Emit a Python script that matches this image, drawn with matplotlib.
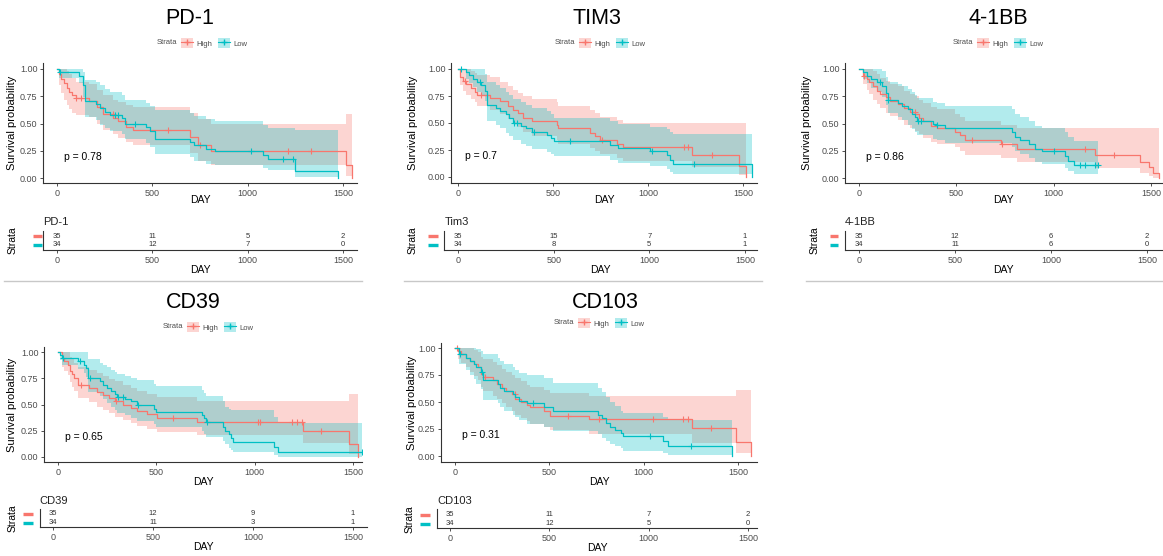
import numpy as np
import matplotlib
matplotlib.use("Agg")
import matplotlib.pyplot as plt
from matplotlib.lines import Line2D
from matplotlib.patches import Patch
from matplotlib.transforms import blended_transform_factory

plt.rcParams["font.family"] = ["Liberation Sans", "DejaVu Sans"]

RED = "#F8766D"
TEAL = "#00BFC4"

# ---- PD-1 ----
pd1_high_t = [0, 10, 20, 35, 50, 65, 80, 100, 170, 210, 240, 295, 320, 360, 400, 696, 740, 810, 1517, 1545]
pd1_high_s = [1.0, 0.95, 0.91, 0.87, 0.83, 0.79, 0.76, 0.73, 0.71, 0.65, 0.59, 0.55, 0.52, 0.47, 0.44, 0.38, 0.30, 0.25, 0.12, 0.0]
pd1_high_lcl = [1.0, 0.85, 0.78, 0.72, 0.67, 0.63, 0.60, 0.58, 0.56, 0.50, 0.44, 0.40, 0.37, 0.33, 0.30, 0.23, 0.16, 0.12, 0.02, 0.0]
pd1_high_ucl = [1.0, 1.0, 1.0, 1.0, 0.98, 0.95, 0.92, 0.88, 0.86, 0.81, 0.76, 0.72, 0.70, 0.67, 0.65, 0.60, 0.54, 0.50, 0.59, 0.59]
pd1_high_cens = [101, 128, 294, 582, 748, 1211, 1334]
pd1_low_t = [0, 10, 115, 135, 145, 206, 225, 250, 280, 340, 355, 468, 490, 512, 696, 720, 780, 827, 1080, 1105, 1246, 1474]
pd1_low_s = [1.0, 0.97, 0.94, 0.85, 0.71, 0.68, 0.64, 0.61, 0.58, 0.55, 0.50, 0.47, 0.43, 0.36, 0.33, 0.30, 0.27, 0.25, 0.21, 0.17, 0.06, 0.0]
pd1_low_lcl = [1.0, 0.92, 0.87, 0.74, 0.56, 0.53, 0.49, 0.46, 0.43, 0.40, 0.36, 0.32, 0.28, 0.22, 0.19, 0.16, 0.13, 0.12, 0.09, 0.07, 0.01, 0.0]
pd1_low_ucl = [1.0, 1.0, 1.0, 0.97, 0.90, 0.88, 0.85, 0.82, 0.79, 0.76, 0.72, 0.69, 0.66, 0.62, 0.60, 0.57, 0.54, 0.52, 0.49, 0.46, 0.44, 0.44]
pd1_low_cens = [14, 302, 320, 407, 1019, 1185, 1238]

# ---- TIM3 ----
tim3_high_t = [0, 9, 26, 44, 70, 88, 100, 167, 220, 264, 290, 317, 343, 387, 519, 528, 695, 721, 747, 835, 870, 1231, 1477, 1518]
tim3_high_s = [1.0, 0.93, 0.89, 0.86, 0.82, 0.79, 0.76, 0.73, 0.70, 0.66, 0.62, 0.59, 0.55, 0.52, 0.485, 0.45, 0.41, 0.38, 0.345, 0.31, 0.275, 0.205, 0.10, 0.0]
tim3_high_lcl = [1.0, 0.85, 0.80, 0.76, 0.72, 0.69, 0.66, 0.62, 0.58, 0.54, 0.50, 0.46, 0.42, 0.38, 0.34, 0.31, 0.27, 0.24, 0.21, 0.18, 0.15, 0.09, 0.02, 0.0]
tim3_high_ucl = [1.0, 1.0, 1.0, 1.0, 0.98, 0.96, 0.94, 0.93, 0.88, 0.84, 0.81, 0.78, 0.75, 0.72, 0.69, 0.66, 0.62, 0.59, 0.56, 0.53, 0.50, 0.50, 0.50, 0.50]
tim3_high_cens = [35, 123, 150, 756, 1187, 1213, 1336]
tim3_low_t = [0, 40, 60, 80, 100, 120, 140, 150, 200, 220, 250, 270, 290, 330, 360, 390, 470, 490, 505, 800, 840, 1010, 1100, 1115, 1134, 1545]
tim3_low_s = [1.0, 0.97, 0.94, 0.91, 0.88, 0.85, 0.80, 0.67, 0.64, 0.61, 0.58, 0.55, 0.50, 0.47, 0.45, 0.42, 0.39, 0.36, 0.335, 0.30, 0.27, 0.24, 0.20, 0.16, 0.12, 0.0]
tim3_low_lcl = [1.0, 0.91, 0.87, 0.83, 0.79, 0.75, 0.70, 0.52, 0.48, 0.45, 0.41, 0.38, 0.34, 0.31, 0.29, 0.26, 0.23, 0.21, 0.19, 0.16, 0.13, 0.10, 0.07, 0.05, 0.03, 0.0]
tim3_low_ucl = [1.0, 1.0, 1.0, 1.0, 1.0, 1.0, 0.95, 0.88, 0.85, 0.82, 0.79, 0.76, 0.72, 0.69, 0.67, 0.64, 0.61, 0.58, 0.55, 0.52, 0.49, 0.46, 0.44, 0.42, 0.40, 0.40]
tim3_low_cens = [18, 114, 295, 310, 400, 589, 1020, 1240]

# ---- 4-1BB ----
bb_high_t = [0, 20, 40, 50, 70, 90, 110, 140, 160, 200, 230, 260, 290, 310, 330, 370, 400, 494, 520, 545, 730, 810, 1213, 1445, 1488, 1510, 1540]
bb_high_s = [1.0, 0.94, 0.91, 0.88, 0.84, 0.80, 0.77, 0.74, 0.71, 0.68, 0.64, 0.61, 0.59, 0.55, 0.52, 0.48, 0.455, 0.42, 0.39, 0.345, 0.31, 0.27, 0.21, 0.15, 0.10, 0.05, 0.0]
bb_high_lcl = [1.0, 0.86, 0.81, 0.77, 0.72, 0.68, 0.64, 0.60, 0.57, 0.53, 0.49, 0.46, 0.43, 0.40, 0.37, 0.33, 0.31, 0.28, 0.25, 0.21, 0.18, 0.15, 0.09, 0.05, 0.02, 0.0, 0.0]
bb_high_ucl = [1.0, 1.0, 1.0, 1.0, 0.98, 0.95, 0.92, 0.89, 0.86, 0.84, 0.80, 0.77, 0.75, 0.72, 0.69, 0.65, 0.63, 0.59, 0.56, 0.52, 0.49, 0.46, 0.46, 0.46, 0.46, 0.46, 0.46]
bb_high_cens = [27, 288, 579, 733, 1162, 1308]
bb_low_t = [0, 20, 40, 60, 90, 120, 140, 150, 202, 220, 250, 270, 290, 300, 380, 400, 442, 785, 802, 828, 871, 905, 939, 1059, 1076, 1102]
bb_low_s = [1.0, 0.97, 0.94, 0.91, 0.88, 0.84, 0.78, 0.72, 0.69, 0.66, 0.63, 0.59, 0.56, 0.525, 0.50, 0.49, 0.455, 0.42, 0.38, 0.35, 0.31, 0.27, 0.245, 0.20, 0.16, 0.12]
bb_low_lcl = [1.0, 0.91, 0.87, 0.83, 0.79, 0.74, 0.67, 0.60, 0.56, 0.53, 0.49, 0.45, 0.42, 0.39, 0.36, 0.35, 0.32, 0.28, 0.25, 0.22, 0.18, 0.15, 0.13, 0.09, 0.06, 0.04]
bb_low_ucl = [1.0, 1.0, 1.0, 1.0, 1.0, 0.98, 0.93, 0.88, 0.86, 0.84, 0.82, 0.79, 0.76, 0.73, 0.70, 0.69, 0.66, 0.63, 0.59, 0.56, 0.52, 0.48, 0.46, 0.42, 0.38, 0.34]
bb_low_cens = [108, 151, 305, 320, 400, 1000, 1136, 1162, 1213, 1230]

# ---- CD39 ----
cd39_high_t = [0, 20, 30, 50, 60, 70, 80, 100, 160, 200, 230, 260, 290, 330, 370, 400, 450, 501, 705, 1245, 1478, 1524]
cd39_high_s = [1.0, 0.94, 0.91, 0.88, 0.82, 0.79, 0.75, 0.69, 0.66, 0.62, 0.59, 0.56, 0.53, 0.50, 0.47, 0.44, 0.41, 0.37, 0.335, 0.25, 0.12, 0.0]
cd39_high_lcl = [1.0, 0.86, 0.82, 0.78, 0.71, 0.67, 0.63, 0.56, 0.52, 0.48, 0.45, 0.42, 0.38, 0.35, 0.32, 0.30, 0.27, 0.24, 0.21, 0.13, 0.03, 0.0]
cd39_high_ucl = [1.0, 1.0, 1.0, 1.0, 0.95, 0.93, 0.90, 0.86, 0.83, 0.80, 0.77, 0.74, 0.72, 0.69, 0.66, 0.63, 0.60, 0.57, 0.53, 0.53, 0.60, 0.60]
cd39_high_cens = [119, 297, 586, 1019, 1028, 1189, 1215, 1240, 1339]
cd39_low_t = [0, 10, 20, 100, 130, 140, 153, 215, 230, 250, 270, 290, 300, 340, 370, 400, 490, 500, 730, 740, 750, 840, 850, 870, 880, 892, 1100, 1121]
cd39_low_s = [1.0, 0.97, 0.94, 0.91, 0.88, 0.85, 0.75, 0.72, 0.69, 0.66, 0.63, 0.60, 0.575, 0.55, 0.53, 0.50, 0.46, 0.43, 0.40, 0.37, 0.33, 0.29, 0.25, 0.22, 0.18, 0.14, 0.10, 0.05]
cd39_low_lcl = [1.0, 0.92, 0.88, 0.84, 0.80, 0.76, 0.62, 0.58, 0.55, 0.51, 0.48, 0.45, 0.42, 0.40, 0.37, 0.34, 0.31, 0.29, 0.25, 0.22, 0.19, 0.15, 0.12, 0.09, 0.07, 0.05, 0.02, 0.0]
cd39_low_ucl = [1.0, 1.0, 1.0, 1.0, 1.0, 1.0, 0.93, 0.90, 0.88, 0.86, 0.83, 0.81, 0.79, 0.77, 0.75, 0.73, 0.70, 0.68, 0.64, 0.61, 0.58, 0.53, 0.48, 0.46, 0.45, 0.45, 0.38, 0.32]
cd39_low_cens = [25, 110, 161, 306, 331, 408, 756, 1545]

# ---- CD103 ----
cd103_high_t = [0, 15, 30, 60, 80, 100, 120, 140, 150, 200, 220, 250, 270, 300, 320, 350, 380, 400, 470, 503, 710, 1258, 1491, 1571]
cd103_high_s = [1.0, 0.97, 0.94, 0.91, 0.88, 0.85, 0.82, 0.76, 0.73, 0.70, 0.67, 0.63, 0.60, 0.57, 0.53, 0.50, 0.47, 0.45, 0.42, 0.375, 0.34, 0.255, 0.13, 0.0]
cd103_high_lcl = [1.0, 0.90, 0.86, 0.82, 0.78, 0.74, 0.70, 0.64, 0.60, 0.56, 0.53, 0.49, 0.45, 0.42, 0.38, 0.35, 0.32, 0.30, 0.27, 0.24, 0.20, 0.12, 0.03, 0.0]
cd103_high_ucl = [1.0, 1.0, 1.0, 1.0, 1.0, 0.98, 0.96, 0.92, 0.90, 0.87, 0.84, 0.81, 0.78, 0.75, 0.72, 0.69, 0.66, 0.64, 0.61, 0.58, 0.56, 0.56, 0.61, 0.61]
cd103_high_cens = [9, 159, 318, 600, 764, 1050, 1209, 1236, 1359]
cd103_low_t = [0, 20, 60, 80, 100, 110, 140, 150, 229, 240, 260, 310, 320, 340, 380, 470, 520, 760, 780, 800, 820, 850, 880, 891, 1100, 1130, 1470]
cd103_low_s = [1.0, 0.94, 0.91, 0.88, 0.85, 0.82, 0.78, 0.70, 0.67, 0.63, 0.60, 0.57, 0.55, 0.51, 0.49, 0.45, 0.42, 0.38, 0.35, 0.31, 0.27, 0.24, 0.21, 0.185, 0.14, 0.095, 0.0]
cd103_low_lcl = [1.0, 0.85, 0.80, 0.75, 0.71, 0.67, 0.62, 0.52, 0.49, 0.45, 0.42, 0.38, 0.36, 0.33, 0.30, 0.27, 0.23, 0.20, 0.17, 0.14, 0.11, 0.09, 0.07, 0.05, 0.03, 0.01, 0.0]
cd103_low_ucl = [1.0, 1.0, 1.0, 1.0, 1.0, 0.99, 0.97, 0.94, 0.91, 0.88, 0.85, 0.82, 0.80, 0.77, 0.75, 0.72, 0.68, 0.63, 0.59, 0.55, 0.50, 0.46, 0.42, 0.40, 0.36, 0.33, 0.33]
cd103_low_cens = [26, 145, 415, 1032, 1253]

# number at risk at 0, 500, 1000, 1500
risk_times = [0, 500, 1000, 1500]
pd1_risk_high, pd1_risk_low = [35, 11, 5, 2], [34, 12, 7, 0]
tim3_risk_high, tim3_risk_low = [35, 15, 7, 1], [34, 8, 5, 1]
bb_risk_high, bb_risk_low = [35, 12, 6, 2], [34, 11, 6, 0]
cd39_risk_high, cd39_risk_low = [35, 12, 9, 1], [34, 11, 3, 1]
cd103_risk_high, cd103_risk_low = [35, 11, 7, 2], [34, 12, 5, 0]

titles = ["PD-1", "TIM3", "4-1BB", "CD39", "CD103"]
table_titles = ["PD-1", "Tim3", "4-1BB", "CD39", "CD103"]
pvals = ["0.78", "0.7", "0.86", "0.65", "0.31"]

curves = [
    ((pd1_high_t, pd1_high_s, pd1_high_lcl, pd1_high_ucl, pd1_high_cens),
     (pd1_low_t, pd1_low_s, pd1_low_lcl, pd1_low_ucl, pd1_low_cens)),
    ((tim3_high_t, tim3_high_s, tim3_high_lcl, tim3_high_ucl, tim3_high_cens),
     (tim3_low_t, tim3_low_s, tim3_low_lcl, tim3_low_ucl, tim3_low_cens)),
    ((bb_high_t, bb_high_s, bb_high_lcl, bb_high_ucl, bb_high_cens),
     (bb_low_t, bb_low_s, bb_low_lcl, bb_low_ucl, bb_low_cens)),
    ((cd39_high_t, cd39_high_s, cd39_high_lcl, cd39_high_ucl, cd39_high_cens),
     (cd39_low_t, cd39_low_s, cd39_low_lcl, cd39_low_ucl, cd39_low_cens)),
    ((cd103_high_t, cd103_high_s, cd103_high_lcl, cd103_high_ucl, cd103_high_cens),
     (cd103_low_t, cd103_low_s, cd103_low_lcl, cd103_low_ucl, cd103_low_cens)),
]
risks = [(pd1_risk_high, pd1_risk_low), (tim3_risk_high, tim3_risk_low),
         (bb_risk_high, bb_risk_low), (cd39_risk_high, cd39_risk_low),
         (cd103_risk_high, cd103_risk_low)]

# layout, in pixels of the 1163x556 picture
layout = [
    dict(title=(190, 18), leg=(200, 43), main=(43, 63, 357, 183), mx=(57, 343), my=(178, 69),
         ylab=12, day=200, risk=(43, 231, 357, 250), rx=(57, 343), rows=(245, 236),
         rtitle=(43, 222), strata=13, bars=(33, 42), rday=270),
    dict(title=(597, 18), leg=(598, 43), main=(451, 63, 757, 183), mx=(458, 743), my=(177, 69),
         ylab=413, day=200, risk=(444, 231, 757, 250), rx=(458, 745), rows=(245, 236),
         rtitle=(445, 222), strata=413, bars=(428, 438), rday=270),
    dict(title=(998, 18), leg=(996, 43), main=(845, 63, 1162, 183), mx=(859, 1151), my=(178, 69),
         ylab=807, day=200, risk=(845, 231, 1162, 250), rx=(859, 1147), rows=(245, 236),
         rtitle=(845, 222), strata=815, bars=(830, 838), rday=270),
    dict(title=(193, 303), leg=(206, 327), main=(44, 347, 362, 462), mx=(58, 353), my=(457, 352),
         ylab=12, day=482, risk=(40, 509, 367, 527), rx=(53, 353), rows=(522.5, 513.5),
         rtitle=(39, 501), strata=13, bars=(23, 33), rday=547),
    dict(title=(605, 303), leg=(597, 323), main=(441, 343, 757, 462), mx=(455, 738), my=(456, 348),
         ylab=412, day=482, risk=(437, 509, 757, 528), rx=(450, 748), rows=(523.5, 514.5),
         rtitle=(437, 501), strata=410, bars=(420, 430), rday=548),
]

W, H = 1163, 556
fig = plt.figure(figsize=(W / 100, H / 100), dpi=100)
AX = "#333333"
TXT = "#4D4D4D"


def fbox(l, t, r, b):
    return [l / W, 1 - b / H, (r - l) / W, (b - t) / H]


def lims(a, b, p0, p1, v0, v1):
    k = (v1 - v0) / (p1 - p0)
    return (v0 + (a - p0) * k, v0 + (b - p0) * k)


def ftext(x, y, s, **kw):
    fig.text(x / W, 1 - y / H, s, **kw)


def style(ax):
    for sp in ["top", "right"]:
        ax.spines[sp].set_visible(False)
    for sp in ["left", "bottom"]:
        ax.spines[sp].set_color(AX)
        ax.spines[sp].set_linewidth(0.8)
    ax.tick_params(length=2.5, width=0.6, color=AX, labelsize=6.5, labelcolor=TXT, pad=1.5)


def km(ax, t, s, lcl, ucl, cens, color):
    t = np.asarray(t, float)
    s = np.asarray(s, float)
    end = max(t[-1], max(cens))
    tt = np.append(t, end)
    ax.fill_between(tt, np.append(lcl, lcl[-1]), np.append(ucl, ucl[-1]),
                    step="post", color=color, alpha=0.3, lw=0)
    ax.step(tt, np.append(s, s[-1]), where="post", color=color, lw=0.9)
    idx = np.searchsorted(t, cens, side="right") - 1
    ax.plot(cens, s[idx], "+", color=color, ms=4, mew=0.8, ls="none")


for i, L in enumerate(layout):
    l, t, r, b = L["main"]
    ax = fig.add_axes(fbox(l, t, r, b))
    style(ax)
    for (cv, col) in zip(curves[i], [RED, TEAL]):
        km(ax, *cv, col)
    ax.set_xlim(*lims(l, r, L["mx"][0], L["mx"][1], 0, 1500))
    ax.set_ylim(*lims(b, t, L["my"][0], L["my"][1], 0, 1))
    ax.set_xticks([0, 500, 1000, 1500])
    ax.set_yticks([0, 0.25, 0.5, 0.75, 1.0])
    ax.set_yticklabels(["0.00", "0.25", "0.50", "0.75", "1.00"])
    ax.set_xlabel("DAY", fontsize=7.5, va="center")
    ax.xaxis.set_label_coords(0.5, -(L["day"] - b) / (b - t))
    ax.set_ylabel("Survival probability", fontsize=8, va="center")
    ax.yaxis.set_label_coords((L["ylab"] - l) / (r - l), 0.5)
    ax.text(35, 0.19, "p = " + pvals[i], fontsize=7.5, ha="left", va="center")

    ftext(L["title"][0], L["title"][1], titles[i], fontsize=15.5, ha="center", va="center")
    cx, cy = L["leg"]
    handles = [(Patch(fc=RED, alpha=0.3, lw=0), Line2D([], [], color=RED, lw=0.8, marker="+", ms=4)),
               (Patch(fc=TEAL, alpha=0.3, lw=0), Line2D([], [], color=TEAL, lw=0.8, marker="+", ms=4))]
    fig.legend(handles, ["High", "Low"], loc="center", bbox_to_anchor=((cx + 14) / W, 1 - cy / H),
               ncol=2, frameon=False, fontsize=5.5, handlelength=1.6, handleheight=1.6,
               handletextpad=0.4, columnspacing=0.7, borderpad=0, borderaxespad=0, labelcolor=TXT)
    ftext(cx - 23, cy, "Strata", fontsize=5.5, ha="right", va="center", color=TXT)

    # risk table
    l, t, r, b = L["risk"]
    rax = fig.add_axes(fbox(l, t, r, b))
    style(rax)
    rax.set_xlim(*lims(l, r, L["rx"][0], L["rx"][1], 0, 1500))
    rax.set_ylim(*lims(b, t, L["rows"][0], L["rows"][1], 1, 2))
    rax.set_xticks([0, 500, 1000, 1500])
    rax.set_yticks([])
    for j, x in enumerate(risk_times):
        rax.text(x, 2, str(risks[i][0][j]), ha="center", va="center", fontsize=5.5, color=AX)
        rax.text(x, 1, str(risks[i][1][j]), ha="center", va="center", fontsize=5.5, color=AX)
    rax.set_xlabel("DAY", fontsize=7.5, va="center")
    rax.xaxis.set_label_coords(0.5, -(L["rday"] - b) / (b - t))
    rax.set_ylabel("Strata", fontsize=7.5, va="center")
    rax.yaxis.set_label_coords((L["strata"] - l) / (r - l), (b - 0.5 * sum(L["rows"])) / (b - t))
    tr = blended_transform_factory(rax.transAxes, rax.transData)
    xa, xb = [(x - l) / (r - l) for x in L["bars"]]
    for yv, col in [(2, RED), (1, TEAL)]:
        rax.plot([xa, xb], [yv, yv], color=col, lw=2.4, transform=tr, clip_on=False,
                 solid_capstyle="butt")
    ftext(L["rtitle"][0], L["rtitle"][1], table_titles[i], fontsize=8, ha="left", va="center",
          color="#222222")

# grey separators under the first row
for x1, x2 in [(4, 362), (404, 762), (806, 1163)]:
    fig.add_artist(Line2D([x1 / W, x2 / W], [1 - 281 / H] * 2, color="#C8C8C8", lw=1))

fig.savefig("out.png", dpi=100, facecolor="white")
